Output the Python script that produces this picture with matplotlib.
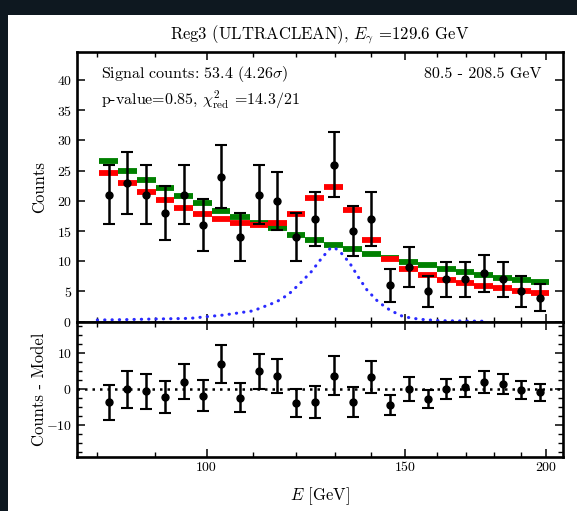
import numpy as np
import matplotlib
matplotlib.use("Agg")
import matplotlib.pyplot as plt
from matplotlib.patches import Rectangle
from matplotlib.ticker import FixedLocator, MultipleLocator, NullFormatter, FixedFormatter

plt.rcParams['font.family'] = ['cmr10', 'DejaVu Serif']
plt.rcParams['mathtext.fontset'] = 'cm'
plt.rcParams['axes.unicode_minus'] = False
plt.rcParams['axes.formatter.use_mathtext'] = True

# energy bin edges (GeV), log spaced
edges = [80.3, 83.5, 86.7, 90.1, 93.6, 97.3, 101.1, 105.0, 109.2, 113.4, 117.8, 122.4, 127.2,
         132.2, 137.4, 142.7, 148.3, 154.1, 160.1, 166.4, 172.9, 179.6, 186.7, 194.0, 201.5]

counts = [21, 23, 21, 18, 21, 16, 24, 14, 21, 20, 14, 17, 26, 15, 17, 6, 9, 5, 7, 7, 8, 7, 5, 4]
errors = [4.9, 5.1, 4.9, 4.5, 4.9, 4.3, 5.2, 4.0, 4.9, 4.8, 4.0, 4.4, 5.4, 4.2, 4.4, 2.7,
          3.3, 2.5, 2.9, 2.9, 3.1, 2.9, 2.5, 2.3]

# signal + background fit (red) and background only fit (green)
model_sig = [24.6, 23.0, 21.5, 20.1, 18.9, 17.8, 16.95, 16.3, 16.0, 16.3, 17.8, 20.5, 22.25,
             18.5, 13.5, 10.3, 8.8, 7.7, 6.9, 6.35, 5.9, 5.5, 5.1, 4.8]
model_bkg = [26.6, 25.0, 23.5, 22.1, 20.8, 19.6, 18.4, 17.3, 16.4, 15.5, 14.4, 13.5, 12.7,
             12.0, 11.2, 10.6, 9.9, 9.4, 8.8, 8.2, 7.7, 7.3, 6.9, 6.5]

# line signal (blue dotted), sampled off the curve
line_e = [80, 85, 90, 96.6, 100, 103.5, 110, 115.4, 118.2, 121, 123.9, 126.5, 128.7, 129.8,
          131.5, 134, 136.3, 138.8, 142, 145.5, 149.5, 154.6, 161, 172.5, 178]
line_y = [0.28, 0.35, 0.45, 0.55, 0.83, 1.1, 1.8, 3.3, 4.5, 6.3, 8.3, 10.5, 12.1, 12.3,
          11.5, 9.7, 7.45, 5.25, 3.3, 1.9, 0.83, 0.4, 0.17, 0.1, 0.08]

edges = np.array(edges)
lo = edges[:-1]
hi = edges[1:]
centers = np.sqrt(lo * hi)
counts = np.array(counts)
model_sig = np.array(model_sig)
resid = counts - model_sig

W, H = 577, 511
fig = plt.figure(figsize=(W / 100, H / 100), dpi=100, facecolor='#0e1820')
fig.patches.append(Rectangle((8 / W, 0), 1 - 8 / W, 1 - 15 / H, transform=fig.transFigure,
                             facecolor='white', edgecolor='none', zorder=-10))

left = 76.7 / W
width = 486.6 / W
ax1 = fig.add_axes([left, 1 - 321.7 / H, width, 270 / H])
ax2 = fig.add_axes([left, 1 - 456.7 / H, width, 135 / H], sharex=ax1)

ax1.hlines(model_bkg, lo, hi, colors='#008000', lw=4.2, zorder=2)
ax1.hlines(model_sig, lo, hi, colors='#ff0000', lw=4.2, zorder=3)
ax1.plot(line_e, line_y, color='#2a2aff', lw=2.2, linestyle=(0, (0.1, 2.3)),
         dash_capstyle='round', zorder=2)
ax1.errorbar(centers, counts, yerr=errors, fmt='o', color='k', ms=5, elinewidth=1.8,
             capsize=4.5, capthick=1.5, zorder=4)

ax2.axhline(0, color='k', lw=1.8, linestyle=(0, (1, 2)), zorder=1)
ax2.errorbar(centers, resid, yerr=errors, fmt='o', color='k', ms=5, elinewidth=1.8,
             capsize=4.5, capthick=1.5, zorder=4)

for ax in (ax1, ax2):
    ax.set_xscale('log')
    ax.set_xlim(76.7, 207.3)
    ax.xaxis.set_major_locator(FixedLocator([100, 150, 200]))
    ax.xaxis.set_major_formatter(FixedFormatter(['100', '150', '200']))
    ax.xaxis.set_minor_locator(MultipleLocator(10))
    ax.xaxis.set_minor_formatter(NullFormatter())
    ax.tick_params(which='both', direction='in', top=True, right=True, labelsize=10)
    ax.tick_params(which='major', length=6, width=1.1)
    ax.tick_params(which='minor', length=3.5, width=1.0)
    for s in ax.spines.values():
        s.set_linewidth(1.9)
    ax.set_facecolor('white')

ax1.set_ylim(0, 44.7)
ax1.yaxis.set_major_locator(MultipleLocator(5))
ax1.yaxis.set_minor_locator(FixedLocator([]))
ax1.tick_params(axis='x', labelbottom=False)
ax1.set_ylabel('Counts', fontsize=12)
ax1.yaxis.set_label_coords(-0.061, 0.5)

ax2.set_ylim(-18.7, 18.8)
ax2.yaxis.set_major_locator(FixedLocator([-10, 0, 10]))
ax2.yaxis.set_minor_locator(MultipleLocator(2.5))
ax2.set_ylabel('Counts - Model', fontsize=12)
ax2.yaxis.set_label_coords(-0.061, 0.5)
ax2.set_xlabel(r'$E$ [GeV]', fontsize=12, labelpad=8)

ax1.text(0.05, 0.917, r'Signal counts: 53.4 (4.26$\sigma$)', transform=ax1.transAxes,
         fontsize=11.5, va='center', ha='left')
ax1.text(0.05, 0.821, r'p-value=0.85, $\chi^2_{\rm red}$ =14.3/21', transform=ax1.transAxes,
         fontsize=11.5, va='center', ha='left')
ax1.text(0.955, 0.917, '80.5 - 208.5 GeV', transform=ax1.transAxes,
         fontsize=11.5, va='center', ha='right')

fig.text(320 / W, 1 - 35 / H, r'Reg3 (ULTRACLEAN), $E_\gamma$ =129.6 GeV',
         ha='center', va='center', fontsize=12)

fig.savefig('out.png', dpi=100, facecolor=fig.get_facecolor())
